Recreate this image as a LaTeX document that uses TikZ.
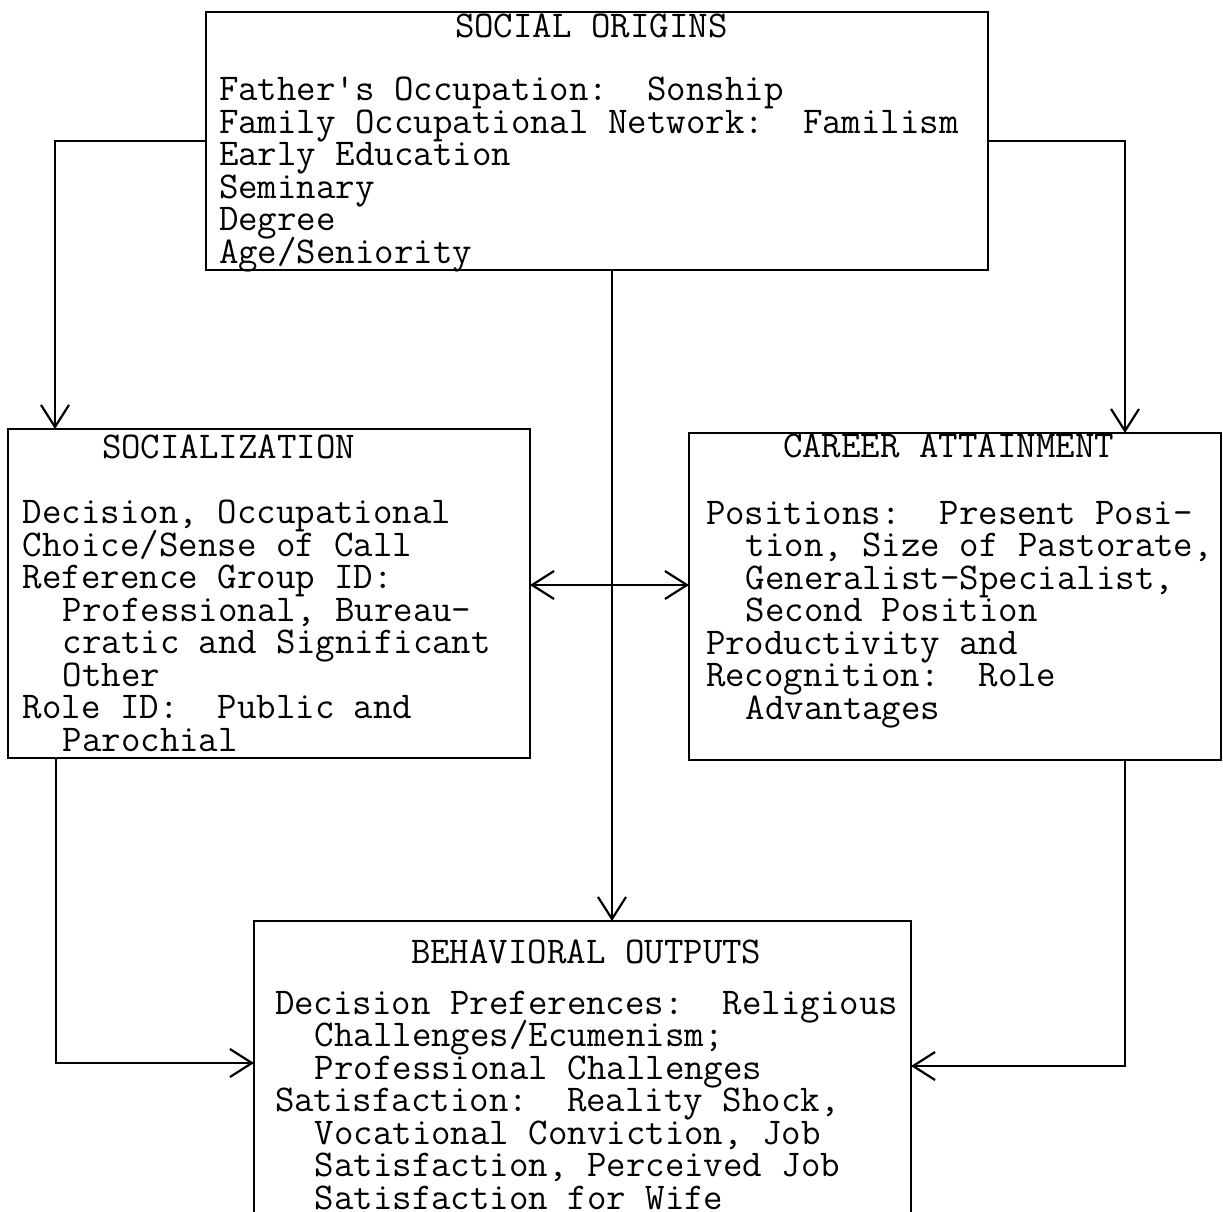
\documentclass[tikz,border=0pt]{standalone}
\usepackage{fontspec}
\usetikzlibrary{arrows.meta}
\lineskiplimit=-1000pt
\lineskip=0pt
\tikzset{
  box/.style={draw, line width=2.6pt, rectangle, inner sep=0pt, outer sep=0pt},
  txt/.style={inner sep=0pt, outer sep=0pt, align=left, anchor=base west,
    font=\fontsize{37.8pt}{32.5pt}\selectfont\ttfamily},
  conn/.style={line width=2.2pt, -{Straight Barb[length=22pt,width=28pt]}},
  conn2/.style={line width=2.2pt, {Straight Barb[length=22pt,width=28pt]}-{Straight Barb[length=22pt,width=28pt]}}
}
\newcommand{\ind}{\hspace*{1.05em}}
\begin{document}
\begin{tikzpicture}[x=1pt,y=-1pt]
\lineskiplimit=-1000pt
\lineskip=0pt
\useasboundingbox (0,0) rectangle (1223,1211);
% boxes
\node[box, minimum width=782pt, minimum height=258pt] (orig) at (597,141) {};
\node[box, minimum width=522pt, minimum height=329pt] (soc) at (269,593.5) {};
\node[box, minimum width=532pt, minimum height=327pt] (car) at (955,596.5) {};
\node[box, minimum width=657pt, minimum height=339pt] (beh) at (582.5,1090.5) {};
% texts (base anchor = baseline of the last line)
\node[txt] (origH) at (455,37) {SOCIAL ORIGINS};
\node[txt] (origB) at (219,263) {Father's Occupation:~~Sonship\\
Family Occupational Network:~~Familism\\
Early Education\\
Seminary\\
Degree\\
Age/Seniority};
\node[txt] (socH) at (102,458) {SOCIALIZATION};
\node[txt] (socB) at (23,751) {Decision, Occupational\\
Choice/Sense of Call\\
Reference Group ID:\\
\ind Professional, Bureau-\\
\ind cratic and Significant\\
\ind Other\\
Role ID:~~Public and\\
\ind Parochial};
\node[txt] (carH) at (783,457) {CAREER ATTAINMENT};
\node[txt] (carB) at (706,719) {Positions:~~Present Posi-\\
\ind tion, Size of Pastorate,\\
\ind Generalist-Specialist,\\
\ind Second Position\\
Productivity and\\
Recognition:~~Role\\
\ind Advantages};
\node[txt] (behH) at (411,963) {BEHAVIORAL OUTPUTS};
\node[txt] (behB) at (275,1209) {Decision Preferences:~~Religious\\
\ind Challenges/Ecumenism;\\
\ind Professional Challenges\\
Satisfaction:~~Reality Shock,\\
\ind Vocational Conviction, Job\\
\ind Satisfaction, Perceived Job\\
\ind Satisfaction for Wife};
% connectors
\draw[conn] (orig.west) -| ([xshift=47pt]soc.north west);
\draw[conn] (orig.east) -| ([xshift=-96pt]car.north east);
\draw[conn] ([xshift=15pt]orig.south) -- ([xshift=15pt]orig.south |- beh.north);
\draw[conn2] ([yshift=8.5pt]soc.east) -- ([yshift=8.5pt]soc.east -| car.west);
\draw[conn] ([xshift=48pt]soc.south west) |- ([yshift=27.5pt]beh.west);
\draw[conn] ([xshift=-96pt]car.south east) |- ([yshift=24.5pt]beh.east);
\end{tikzpicture}
\end{document}
